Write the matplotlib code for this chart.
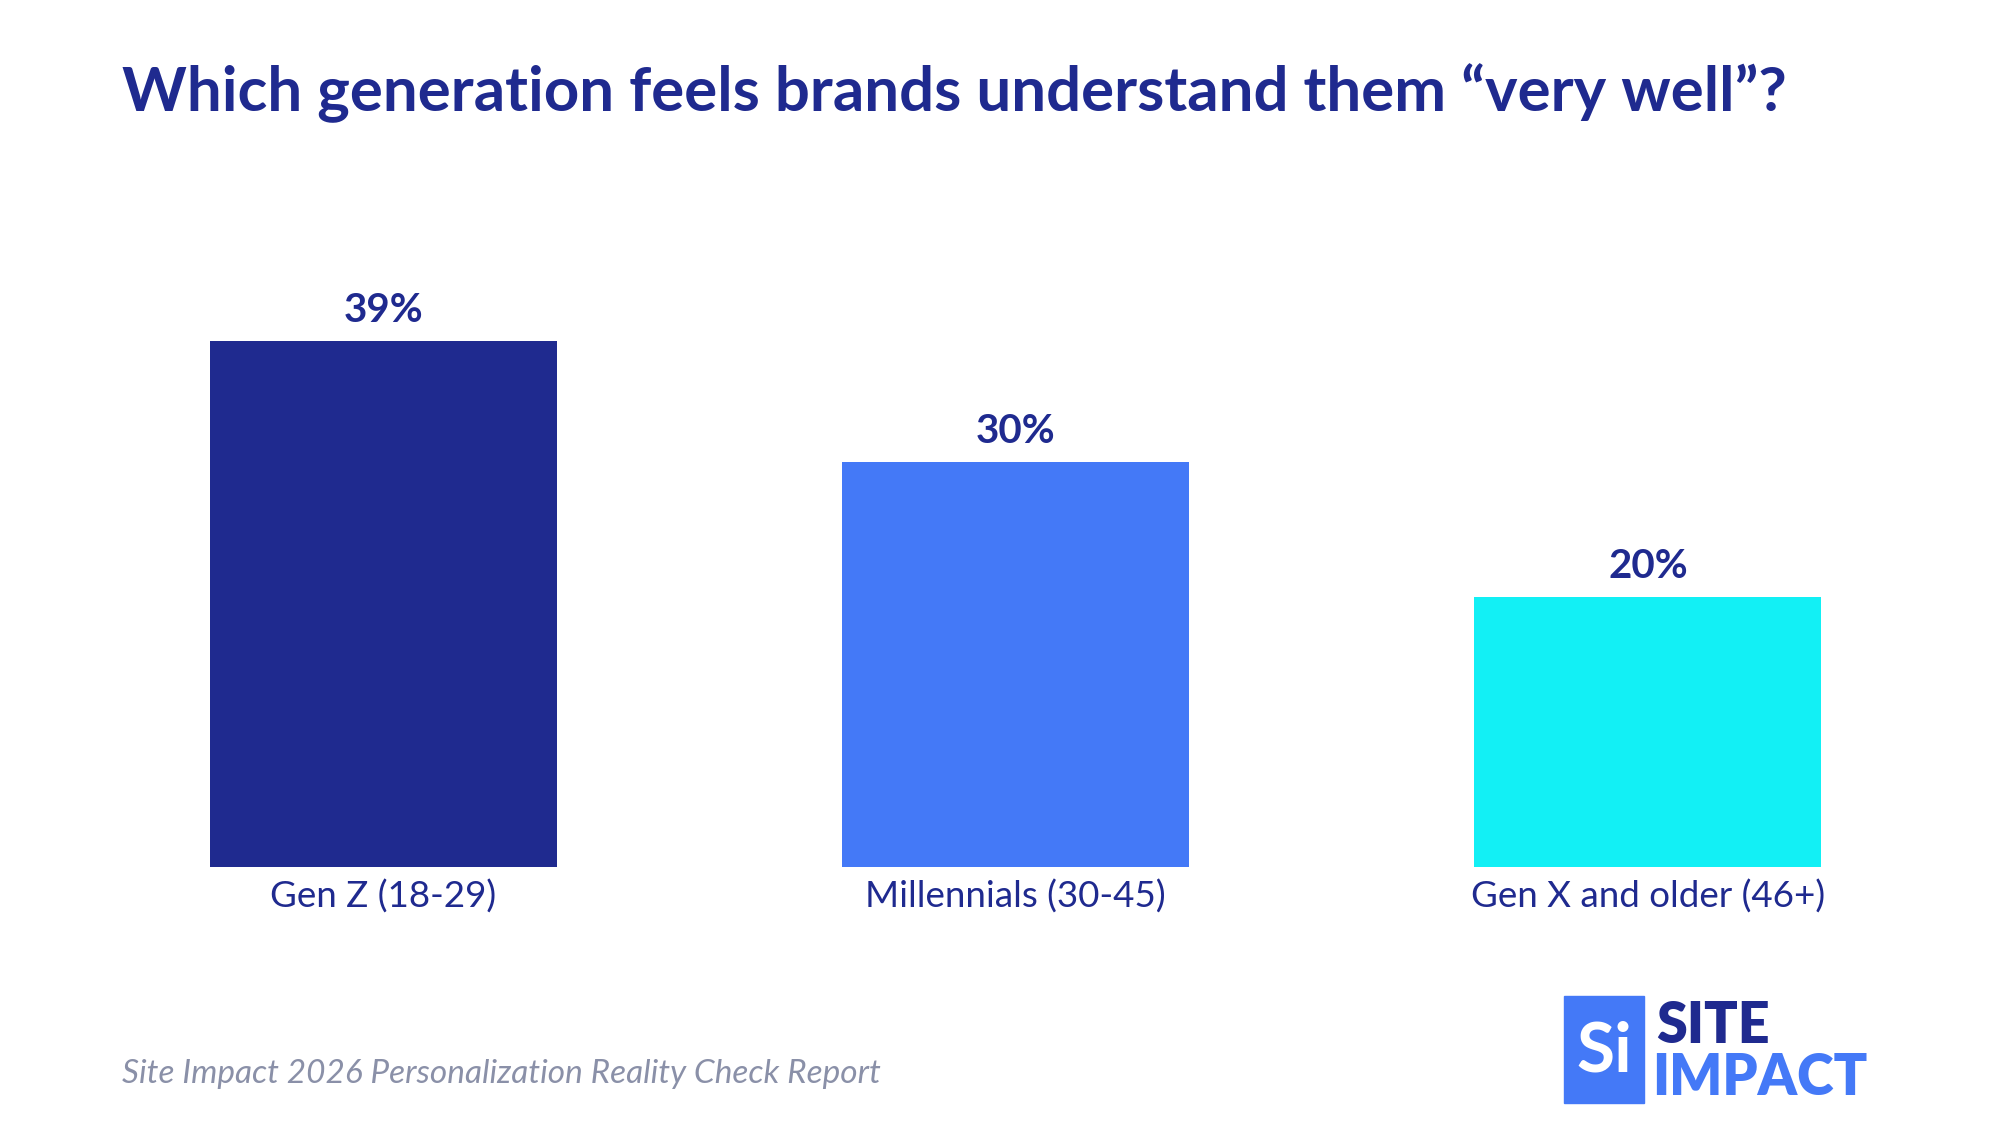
import matplotlib.pyplot as plt
from matplotlib.patches import Rectangle

plt.rcParams['font.family'] = ['Lato', 'DejaVu Sans']

categories = ["Gen Z (18-29)", "Millennials (30-45)", "Gen X and older (46+)"]
values = [39, 30, 20]
colors = ["#1F2A8F", "#4479F7", "#12F0F5"]
navy = "#1F2A8F"

fig = plt.figure(figsize=(20, 11.25), dpi=100)
ax = fig.add_axes([0.0337, 0.229, 0.9483, 0.468])
ax.bar(range(len(values)), values, width=0.549, color=colors)
ax.set_xlim(-0.5, 2.5)
ax.set_ylim(0, 39)
ax.axis("off")
for i, v in enumerate(values):
    ax.text(i, v + 0.9, f"{v}%", ha="center", va="bottom", fontsize=29,
            fontweight="bold", color=navy)
    ax.text(i, -0.9, categories[i], ha="center", va="top", fontsize=26.5, color=navy)

fig.text(0.061, 0.917, "Which generation feels brands understand them \u201cvery well\u201d?",
         fontsize=44.5, fontweight="bold", color=navy, va="center")
fig.text(0.061, 0.045, "Site Impact 2026 Personalization Reality Check Report",
         fontsize=24, style="italic", color="#8A90A8", va="center")

# logo
fig.patches.append(Rectangle((0.782, 0.02), 0.04, 0.095, transform=fig.transFigure,
                             color="#4479F7"))
fig.text(0.802, 0.065, "Si", fontsize=50, fontweight="bold", color="white",
         ha="center", va="center")
fig.text(0.828, 0.088, "SITE", fontsize=40, fontweight="heavy", color=navy, va="center")
fig.text(0.826, 0.042, "IMPACT", fontsize=40, fontweight="heavy", color="#4479F7", va="center")

fig.savefig("out.png", dpi=100)
